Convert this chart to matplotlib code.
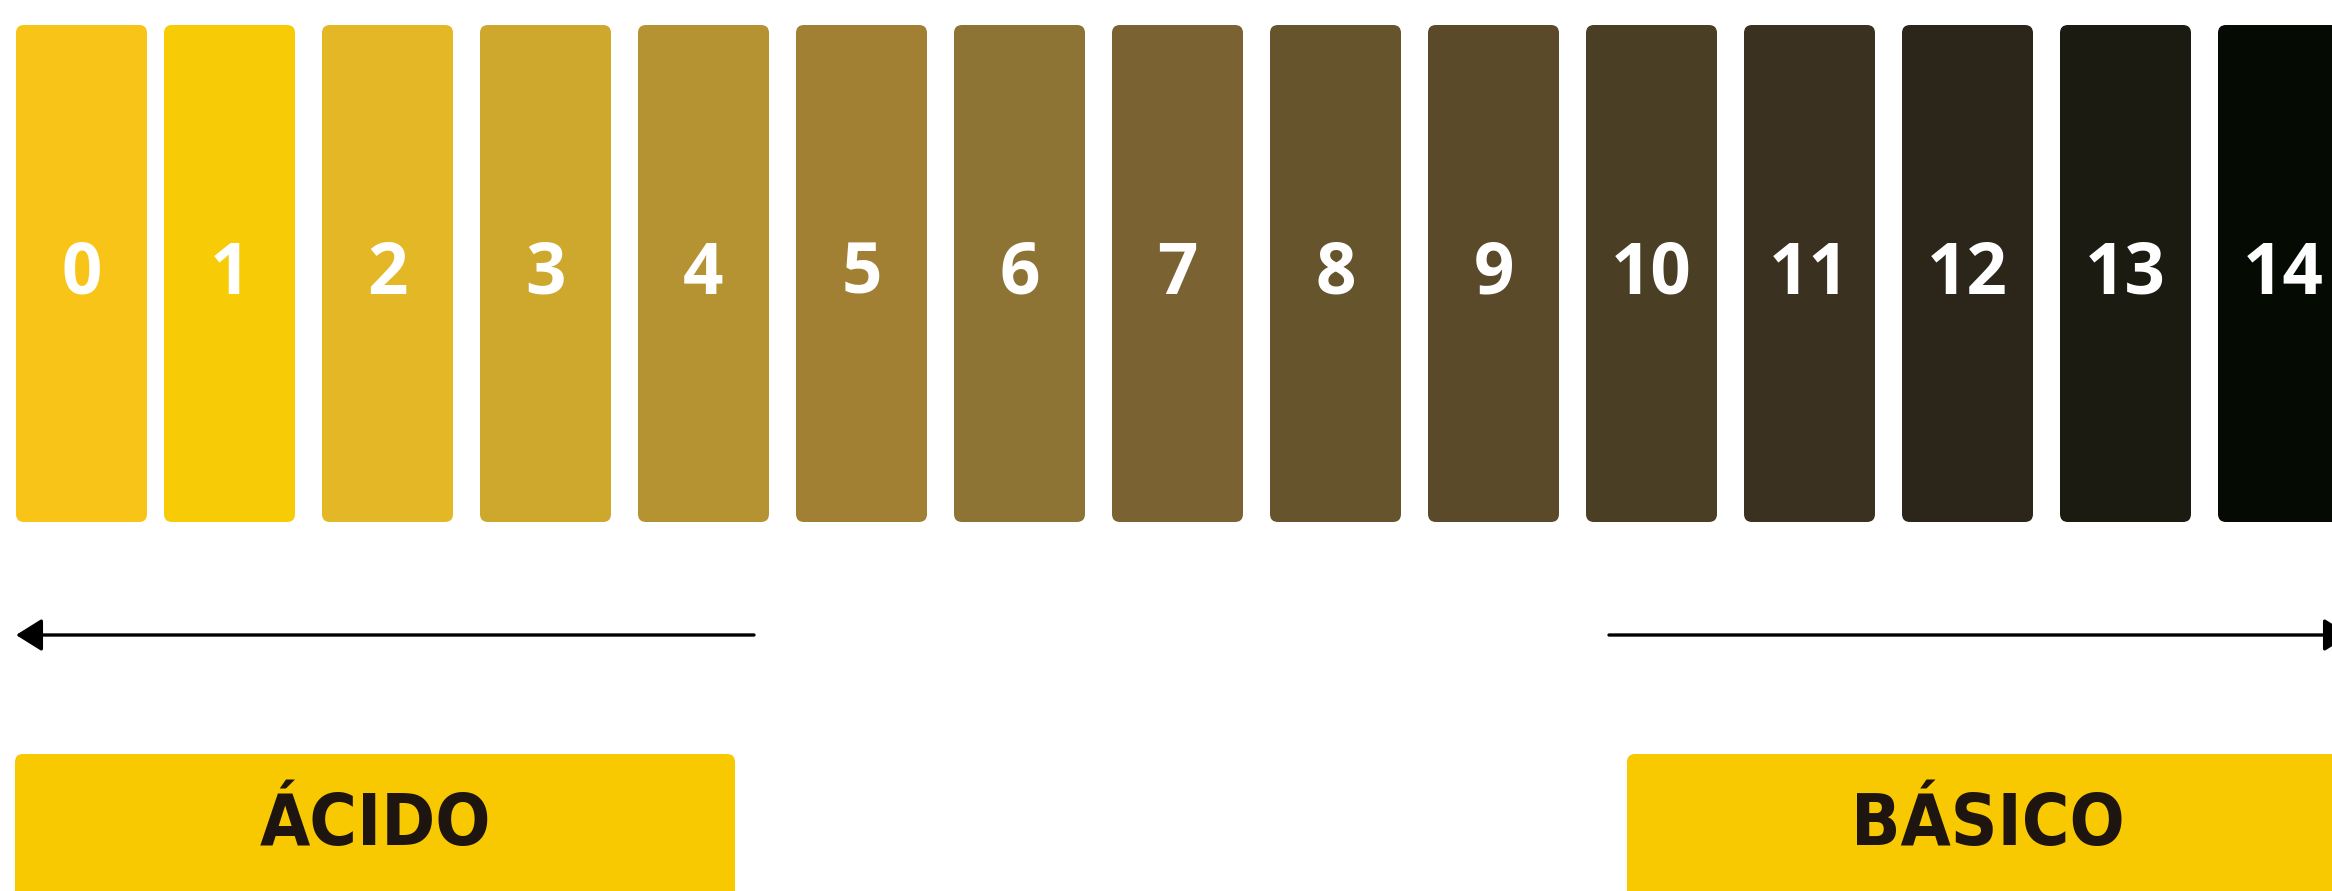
"""
pH scale strip: 15 coloured tiles (0-14) with acid / basic markers below.
"""

import matplotlib
matplotlib.use("Agg")
import matplotlib.pyplot as plt
from matplotlib.patches import FancyBboxPatch

# ---- data -------------------------------------------------------------
ph_values = list(range(15))
ph_colors = [
    "#F8C418", "#F8CB07", "#E3B726", "#CEA72D", "#B59232",
    "#A28033", "#8D7434", "#7A6232", "#66542C", "#5A4A2A",
    "#4A3E25", "#3A3120", "#2B2619", "#1B1B12", "#050A03",
]
side_labels = ["ÁCIDO", "BÁSICO"]
label_color = "#1E1510"
box_color = "#F8C800"

# ---- layout (pixel units, figure is 2332 x 891) --------------------------
W, H = 2332, 891
pitch = 158
tile_w = 131
first_left = 6
tile_top, tile_bottom = 25, 522

fig = plt.figure(figsize=(W / 100, H / 100), dpi=100)
ax = fig.add_axes([0, 0, 1, 1])
ax.set_xlim(0, W)
ax.set_ylim(H, 0)
ax.axis("off")

for i, (v, c) in enumerate(zip(ph_values, ph_colors)):
    left = first_left + i * pitch
    if i == 0:
        left += 10  # first gap is a little narrower in the original
    ax.add_patch(FancyBboxPatch((left, tile_top), tile_w, tile_bottom - tile_top,
                                boxstyle="round,pad=0,rounding_size=8",
                                fc=c, ec="none"))
    ax.text(left + tile_w / 2, 294, str(v), ha="center", va="baseline",
            color="white", fontsize=51, fontweight="bold", family="Open Sans")

# arrows
arrow_y = 635
style = "-|>,head_length=0.8,head_width=0.5"
for tip, tail in [(16, 754), (2350, 1609)]:
    ax.annotate("", xy=(tip, arrow_y), xytext=(tail, arrow_y),
                annotation_clip=False,
                arrowprops=dict(arrowstyle=style, mutation_scale=20, lw=2.4,
                                color="black", shrinkA=0, shrinkB=0))

# acid / basic boxes
boxes = [(15, 720), (1627, 760)]
for (bx, bw), lab in zip(boxes, side_labels):
    ax.add_patch(FancyBboxPatch((bx, 754), bw, 200,
                                boxstyle="round,pad=0,rounding_size=8",
                                fc=box_color, ec="none"))
centers = [375, 1988]
for cx, lab in zip(centers, side_labels):
    ax.text(cx, 845, lab, ha="center", va="baseline", color=label_color,
            fontsize=52, fontweight="bold", fontstretch="condensed",
            family="DejaVu Sans")

fig.savefig("out.png", dpi=100)
plt.close(fig)
